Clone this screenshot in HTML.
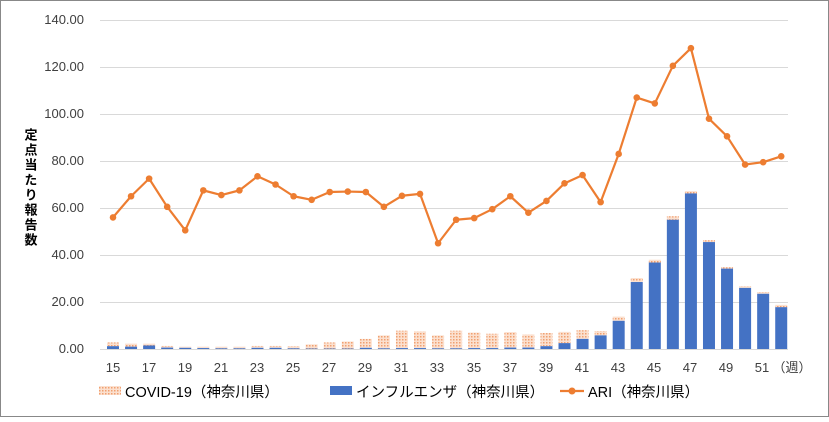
<!DOCTYPE html>
<html><head><meta charset="utf-8"><style>
body{margin:0;background:#fff;}
svg text{font-family:"Liberation Sans","Noto Sans CJK JP",sans-serif;fill:#404040;}
</style></head><body>
<svg id="s" width="829" height="417" viewBox="0 0 829 417" xmlns="http://www.w3.org/2000/svg">
<defs>
<pattern id="dots" width="3" height="3" patternUnits="userSpaceOnUse">
<rect width="3" height="3" fill="#fbe0cf"/>
<rect x="0" y="0" width="1.5" height="1.5" fill="#f0a070"/>
</pattern>
</defs>
<rect x="0.5" y="0.5" width="828" height="416" fill="#fff" stroke="#888"/>
<g id="grid" stroke="#d9d9d9" stroke-width="1"></g>
<g font-size="13" text-anchor="end">
<text x="84" y="353">0.00</text>
<text x="84" y="306">20.00</text>
<text x="84" y="259">40.00</text>
<text x="84" y="212">60.00</text>
<text x="84" y="165">80.00</text>
<text x="84" y="118">100.00</text>
<text x="84" y="71">120.00</text>
<text x="84" y="24">140.00</text>
</g>
<text x="30" y="128" font-size="13" style="writing-mode:vertical-rl;fill:#000;letter-spacing:2px" font-weight="bold">定点当たり報告数</text>
<g id="bars"></g>
<g id="line"></g>
<g font-size="13" text-anchor="middle">
<text x="113" y="372">15</text><text x="149" y="372">17</text><text x="185" y="372">19</text><text x="221" y="372">21</text><text x="257" y="372">23</text><text x="293" y="372">25</text><text x="329" y="372">27</text><text x="365" y="372">29</text><text x="401" y="372">31</text><text x="437" y="372">33</text><text x="474" y="372">35</text><text x="510" y="372">37</text><text x="546" y="372">39</text><text x="582" y="372">41</text><text x="618" y="372">43</text><text x="654" y="372">45</text><text x="690" y="372">47</text><text x="726" y="372">49</text><text x="762" y="372">51</text>
<text x="792" y="372">（週）</text>
</g>
<g font-size="14.5">
<rect x="99" y="386" width="22" height="9" fill="url(#dots)"/>
<text x="125" y="397" style="fill:#000">COVID-19（神奈川県）</text>
<rect x="330" y="386" width="22" height="9" fill="#4472c4"/>
<text x="356" y="397" style="fill:#000">インフルエンザ（神奈川県）</text>
<line x1="560" y1="391" x2="584" y2="391" stroke="#ed7d31" stroke-width="2.2"/>
<circle cx="572" cy="391" r="3.5" fill="#ed7d31"/>
<text x="588" y="397" style="fill:#000">ARI（神奈川県）</text>
</g>
</svg>
<script>
var flu=[1.2,1.0,1.5,0.6,0.5,0.4,0.3,0.3,0.5,0.5,0.3,0.2,0.2,0.2,0.5,0.3,0.4,0.4,0.3,0.3,0.4,0.4,0.6,0.6,1.2,2.5,4.3,5.8,12,28.5,36.8,55,66.2,45.5,34.2,26,23.5,17.8];
var tot=[2.8,2.3,2.3,1.3,1.0,1.0,1.0,1.0,1.3,1.3,1.2,2,2.8,3.2,4.3,5.8,7.8,7.5,5.8,7.8,7.0,6.5,7.2,6.2,6.8,7.3,8.0,7.6,13.8,30.2,38,56.5,67.2,46.3,34.8,26.7,24.2,18.8];
var ari=[56,65,72.5,60.5,50.5,67.5,65.5,67.5,73.5,70,65,63.5,66.8,67,66.8,60.5,65.2,66,45,55,55.7,59.5,65,58,63,70.5,74,62.5,83,107,104.5,120.5,128,98,90.5,78.5,79.5,82];
var ns="http://www.w3.org/2000/svg";
function el(t,a,p){var e=document.createElementNS(ns,t);for(var k in a)e.setAttribute(k,a[k]);document.getElementById(p).appendChild(e);return e;}
function Y(v){return 349-v*2.35;}
function X(i){return 113+i*18.06;}
for(var g=0;g<=7;g++){var y=349-g*47;el('line',{x1:100,x2:788,y1:y+0.5,y2:y+0.5},'grid');}
var pts=[];
for(var i=0;i<38;i++){
 var x=X(i)-6;
 el('rect',{x:x,y:Y(tot[i]),width:12,height:(tot[i]-flu[i])*2.35,fill:'url(#dots)'},'bars');
 el('rect',{x:x,y:Y(flu[i]),width:12,height:flu[i]*2.35,fill:'#4472c4'},'bars');
 pts.push(X(i)+','+Y(ari[i]));
}
el('polyline',{points:pts.join(' '),fill:'none',stroke:'#ed7d31','stroke-width':2.2,'stroke-linejoin':'round'},'line');
for(var i=0;i<38;i++)el('circle',{cx:X(i),cy:Y(ari[i]),r:3.3,fill:'#ed7d31'},'line');
</script>
</body></html>
